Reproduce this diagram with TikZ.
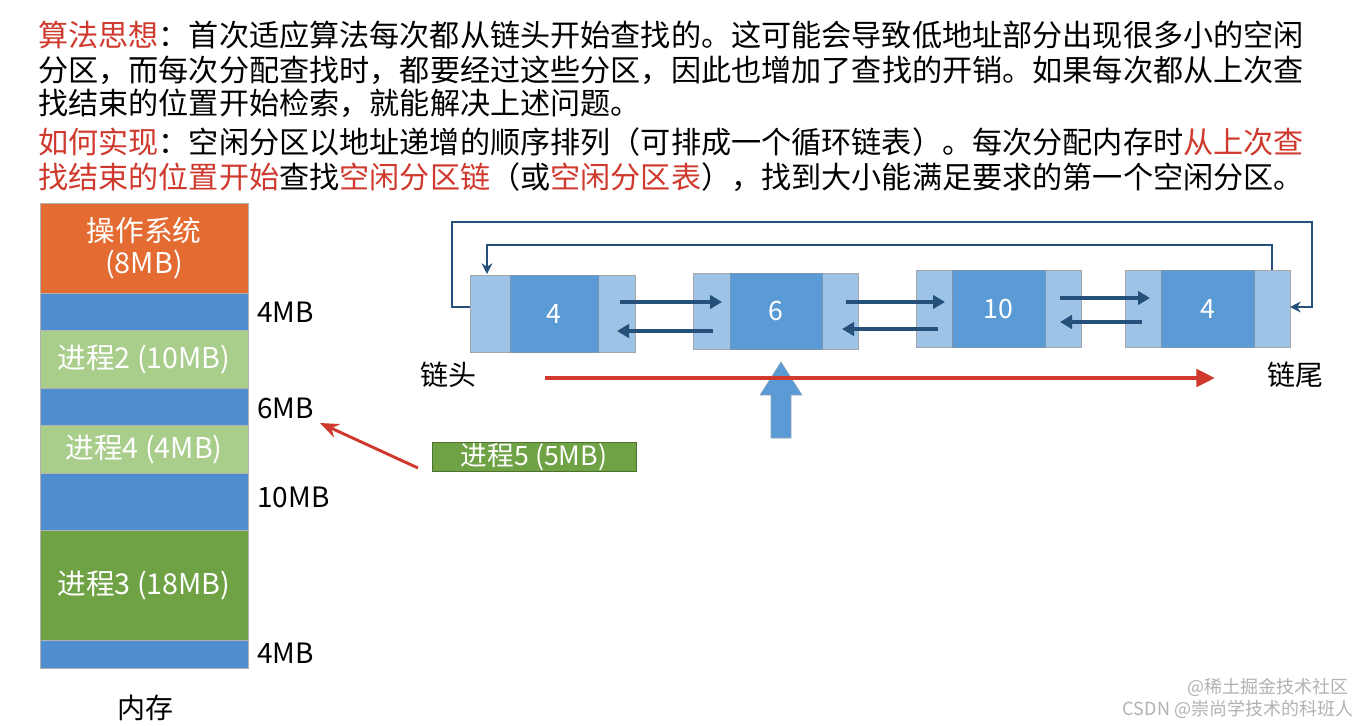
\documentclass[tikz,border=0pt]{standalone}
\usepackage{fontspec}
\setmainfont{Noto Sans CJK SC}
\usetikzlibrary{arrows.meta}
\definecolor{tred}{HTML}{D03A2E}
\definecolor{osor}{HTML}{E46C32}
\definecolor{memb}{HTML}{4F8FD0}
\definecolor{lgr}{HTML}{A9CD8B}
\definecolor{dgr}{HTML}{6FA245}
\definecolor{lb}{HTML}{9DC3E6}
\definecolor{db}{HTML}{5B9BD5}
\definecolor{ln}{HTML}{24507A}
\tikzset{
 para/.style={anchor=west,inner sep=0,font=\fontsize{22.6}{23}\selectfont},
 mem/.style={draw=gray!60,line width=0.4pt,inner sep=0},
 lab/.style={anchor=west,inner sep=0,font=\fontsize{21}{22}\selectfont},
 wt/.style={text=white,font=\fontsize{21.5}{24}\selectfont,align=center},
 lnk/.style={draw=ln,line width=3pt,-{Triangle[length=9pt,width=10pt]}},
 loop/.style={draw=ln,line width=1.5pt,-{Stealth[length=8pt,width=8pt]}},
}
\begin{document}
\begin{tikzpicture}[x=0.75pt,y=-0.75pt]
\useasboundingbox (0,0) rectangle (1371,725);
\fill[white] (0,0) rectangle (1371,725);
% paragraph
\node[para] (p1) at (38,35) {\textcolor{tred}{算法思想}：首次适应算法每次都从链头开始查找的。这可能会导致低地址部分出现很多小的空闲};
\node[para] (p2) at (38,70) {分区，而每次分配查找时，都要经过这些分区，因此也增加了查找的开销。如果每次都从上次查};
\node[para] (p3) at (38,103) {找结束的位置开始检索，就能解决上述问题。};
\node[para] (p4) at (38,142) {\textcolor{tred}{如何实现}：空闲分区以地址递增的顺序排列（可排成一个循环链表）。每次分配内存时\textcolor{tred}{从上次查}};
\node[para] (p5) at (38,177) {\textcolor{tred}{找结束的位置开始}查找\textcolor{tred}{空闲分区链}（或\textcolor{tred}{空闲分区表}），找到大小能满足要求的第一个空闲分区。};
% memory
\fill[osor,mem] (40,203) rectangle (248,293);
\node[wt] (os) at (144,248) {操作系统\\(8MB)};
\fill[memb,mem] (40,293) rectangle (248,330);
\fill[lgr,mem] (40,330) rectangle (248,388);
\node[wt] (pr2) at (144,359) {进程2 (10MB)};
\fill[memb,mem] (40,388) rectangle (248,425);
\fill[lgr,mem] (40,425) rectangle (248,473);
\node[wt] (pr4) at (144,449) {进程4 (4MB)};
\fill[memb,mem] (40,473) rectangle (248,530);
\fill[dgr,mem] (40,530) rectangle (248,640);
\node[wt] (pr3) at (144,585) {进程3 (18MB)};
\fill[memb,mem] (40,640) rectangle (248,668);
\node[lab] (m1) at (257,312) {4MB};
\node[lab] (m2) at (257,408) {6MB};
\node[lab] (m3) at (257,497) {10MB};
\node[lab] (m4) at (257,653) {4MB};
\node[font=\fontsize{21}{22}\selectfont,inner sep=0] (nc) at (145,708) {内存};
% process 5
\node[draw=dgr!70!black,fill=dgr,minimum width=204*0.75pt,minimum height=29*0.75pt,inner sep=0,text=white,font=\fontsize{20}{22}\selectfont] (p5b) at (534,457) {进程5 (5MB)};
\coordinate (ra) at (418,468);
\draw[tred,line width=2.2pt,-{Stealth[length=14pt,width=11pt]}] (ra) -- (320,423);
% list nodes
\foreach \n/\a/\b/\c/\d/\t/\bo/\v in {A/470/510/598/635/275/352/4,B/693/730/822/858/273/349/6,C/916/952/1045/1081/270/347/10,D/1125/1161/1254/1290/270/347/4}{
 \fill[lb,draw=gray!70] (\a,\t) rectangle (\d,\bo);
 \fill[db,draw=ln!60] (\b,\t) rectangle (\c,\bo);
 \node[text=white,font=\fontsize{20}{22}\selectfont] (\n) at ({(\b+\c)/2},{(\t+\bo)/2}) {\v};
 \coordinate (\n L) at (\a,{(\t+\bo)/2});
 \coordinate (\n R) at (\d,{(\t+\bo)/2});
}
\draw[lnk] (620,302) -- (722,302);
\draw[lnk] (713,331) -- (617,331);
\draw[lnk] (846,302) -- (945,302);
\draw[lnk] (938,329) -- (842,329);
\draw[lnk] (1060,298) -- (1150,298);
\draw[lnk] (1142,322) -- (1060,322);
\draw[loop] (AL |- 0,307) -- (452,307) -- (452,222) -- (1312,222) -- (1312,307) -- (DR |- 0,307);
\draw[loop] (1272,270) -- (1272,245) -- (487,245) -- (487,274);
% pointer arrow
\fill[db,draw=ln!50] (771,438) -- (771,395) -- (760,395) -- (781,362) -- (802,395) -- (791,395) -- (791,438) -- cycle;
\node[font=\fontsize{21}{22}\selectfont,inner sep=0] (lh) at (448,375) {链头};
\node[font=\fontsize{21}{22}\selectfont,inner sep=0] (lt) at (1295,375) {链尾};
\draw[tred,line width=3pt,-{Triangle[length=14pt,width=13pt]}] (545,378) -- (1215,378);
% watermarks
\node[text=gray!60,font=\fontsize{13.5}{14}\selectfont,inner sep=0] (w1) at (1268,687) {@稀土掘金技术社区};
\node[text=gray!60,font=\fontsize{13.5}{14}\selectfont,inner sep=0] (w2) at (1238,709) {CSDN @崇尚学技术的科班人};
\end{tikzpicture}
\end{document}
